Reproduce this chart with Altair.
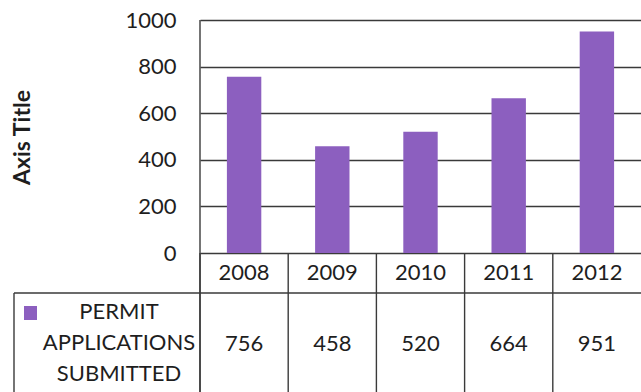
import altair as alt
import pandas as pd

years = ["2008", "2009", "2010", "2011", "2012"]
values = [756, 458, 520, 664, 951]
y_ticks = [0, 200, 400, 600, 800, 1000]
series_label = "PERMIT\nAPPLICATIONS\nSUBMITTED"
y_title = "Axis Title"

PURPLE = "#8c5fbf"
INK = "#1e1e1e"
LINE = "#3a3a3a"
FONT = "Lato"
FS = 22

df = pd.DataFrame({"year": years, "value": values})
one = pd.DataFrame({"a": [0]})

xenc = alt.X("year:O", sort=years, scale=alt.Scale(paddingInner=0, paddingOuter=0), axis=None)

bars = alt.Chart(df).mark_bar(width=alt.RelativeBandSize(0.39), color=PURPLE).encode(
    x=xenc,
    y=alt.Y(
        "value:Q",
        scale=alt.Scale(domain=[0, 1000], nice=False, zero=True),
        axis=alt.Axis(
            values=y_ticks,
            format="d",
            grid=True,
            gridColor=LINE,
            gridWidth=1.4,
            gridOpacity=1,
            ticks=False,
            domain=False,
            labelPadding=24,
            labelFontSize=FS,
            labelFont=FONT,
            labelColor=INK,
            title=y_title,
            titleFont=FONT,
            titleFontSize=23,
            titleFontWeight="bold",
            titleColor=INK,
            titleAngle=270,
            titleX=-178,
            titleY=117,
            titleAlign="center",
            titleBaseline="middle",
        ),
    ),
)

year_text = alt.Chart(df).mark_text(fontSize=FS, font=FONT, color=INK, baseline="middle").encode(
    x=xenc, y=alt.value(253), text="year:N"
)
value_text = alt.Chart(df).mark_text(fontSize=FS, font=FONT, color=INK, baseline="middle").encode(
    x=xenc, y=alt.value(324), text="value:Q"
)

col_lines = alt.Chart(df).mark_rule(color=LINE, strokeWidth=1.4).encode(
    x=alt.X("year:O", sort=years, bandPosition=0, scale=alt.Scale(paddingInner=0, paddingOuter=0), axis=None),
    y=alt.value(233), y2=alt.value(400)
)

left_line = alt.Chart(one).mark_rule(color=LINE, strokeWidth=1.4).encode(
    x=alt.value(0), y=alt.value(0), y2=alt.value(400)
)
row_line = alt.Chart(one).mark_rule(color=LINE, strokeWidth=1.4).encode(
    x=alt.value(-186), x2=alt.value(441), y=alt.value(273)
)
table_left = alt.Chart(one).mark_rule(color=LINE, strokeWidth=1.4).encode(
    x=alt.value(-186), y=alt.value(273), y2=alt.value(400)
)
legend_sq = alt.Chart(one).mark_rect(color=PURPLE).encode(
    x=alt.value(-176), x2=alt.value(-163), y=alt.value(286), y2=alt.value(300)
)
legend_txt = alt.Chart(one).mark_text(
    fontSize=FS, font=FONT, color=INK, align="center", baseline="middle", lineBreak="\n", lineHeight=31
).encode(x=alt.value(-81), y=alt.value(292), text=alt.value(series_label))

chart = alt.layer(
    bars, col_lines, left_line, row_line, table_left, year_text, value_text, legend_sq, legend_txt
).properties(
    width=441, height=233,
    autosize=alt.AutoSizeParams(type="none"),
    padding={"left": 200, "top": 20, "right": 0, "bottom": 139},
    background="white",
).configure_view(stroke=None)

chart.save("out.html", embed_options={"renderer": "svg", "actions": False})
